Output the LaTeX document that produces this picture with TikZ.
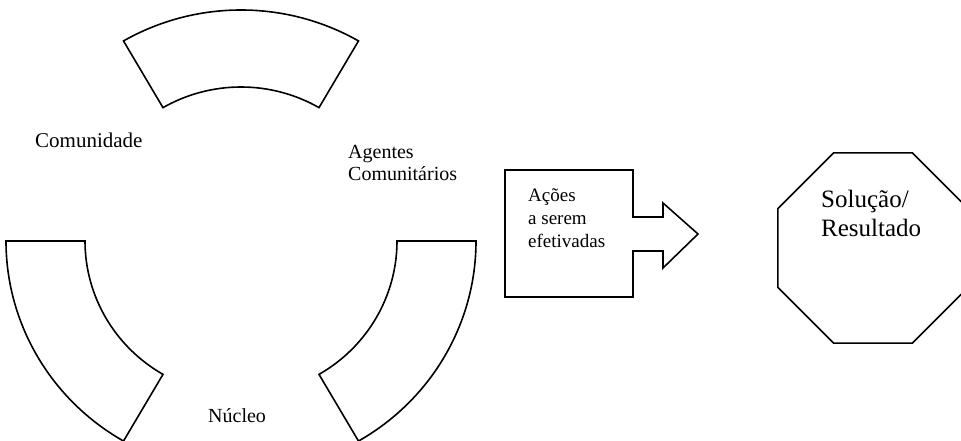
\documentclass[tikz,border=0pt]{standalone}
\usepackage{fontspec}
\setmainfont{Liberation Serif}
\usetikzlibrary{calc}
\tikzset{
  outline/.style={draw=black, line width=1.6pt, line join=miter, fill=white},
  txt/.style={inner sep=0pt, align=left, text=black},
}
\begin{document}
\begin{tikzpicture}[x=1pt, y=-1pt]
  \useasboundingbox (0,0) rectangle (961,441);
  \fill[white] (0,0) rectangle (961,441);
  \clip (0,0) rectangle (961,441);

  % centre of the three-part ring (y axis points down)
  \coordinate (c) at (241,241);

  % ring segments: top, lower left, lower right
  \foreach \s/\e in {-120/-60, 120/180, 0/60}
    \draw[outline] ($(c)+(\s:235 and 231)$)
      arc[start angle=\s, end angle=\e, x radius=235, y radius=231]
      -- ($(c)+(\e:156 and 154)$)
      arc[start angle=\e, end angle=\s, x radius=156, y radius=154]
      -- cycle;

  % box with an arrow on its right side
  \draw[outline] (505,170) -- (633,170) -- (633,217) -- (663,217) -- (663,203)
    -- (698,234) -- (663,268) -- (663,251) -- (633,251) -- (633,297)
    -- (505,297) -- cycle;

  % octagon
  \coordinate (o) at (873,248);
  \draw[outline] ($(o)+(22.5:103)$) -- ($(o)+(67.5:103)$) -- ($(o)+(112.5:103)$)
    -- ($(o)+(157.5:103)$) -- ($(o)+(202.5:103)$) -- ($(o)+(247.5:103)$)
    -- ($(o)+(292.5:103)$) -- ($(o)+(337.5:103)$) -- cycle;

  % labels
  \node[txt, font=\fontsize{21}{24}\selectfont, anchor=base west] (com) at (35,148) {Comunidade};
  \node[txt, font=\fontsize{20}{22}\selectfont, anchor=north west] (age) at (348,145) {Agentes\\Comunitários};
  \node[txt, font=\fontsize{20}{22}\selectfont, anchor=base west] (nuc) at (208,422) {Núcleo};
  \node[txt, font=\fontsize{19}{23}\selectfont, anchor=north west] (aco) at (528,188) {Ações\\a serem\\efetivadas};
  \node[txt, font=\fontsize{25}{29}\selectfont, anchor=north west] (sol) at (821,190) {Solução/\\Resultado};
\end{tikzpicture}
\end{document}
